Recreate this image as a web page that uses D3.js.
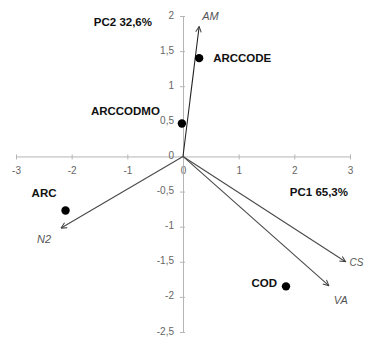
<!DOCTYPE html>
<html>
<head>
<meta charset="utf-8">
<script src="https://cdn.jsdelivr.net/npm/d3@7/dist/d3.min.js"></script>
<style>
  html, body { margin: 0; padding: 0; background: #fff; }
  svg { display: block; }
  text { font-family: "Liberation Sans", Arial, sans-serif; }
</style>
</head>
<body>
<svg id="chart" width="365" height="338"></svg>
<script>
// PCA biplot: sample scores and variable loadings on PC1 / PC2
const sampleNames = ["ARCCODE", "ARCCODMO", "ARC", "COD"];
const samplePC1   = [0.29, -0.02, -2.11, 1.85];
const samplePC2   = [1.40, 0.47, -0.77, -1.85];

const varNames = ["AM", "N2", "CS", "VA"];
const varPC1   = [0.29, -2.19, 2.92, 2.62];
const varPC2   = [1.85, -1.02, -1.50, -1.84];

const xTicks = [-3, -2, -1, 0, 1, 2, 3];
const yTicks = [2, 1.5, 1, 0.5, 0, -0.5, -1, -1.5, -2, -2.5];

const xTitle = "PC1 65,3%";
const yTitle = "PC2 32,6%";

// label placement relative to each mark
const sampleLabelPos = {
  "ARCCODE":  { dx: 14,  dy: 0,   anchor: "start" },
  "ARCCODMO": { dx: -22, dy: -12, anchor: "end" },
  "ARC":      { dx: -9,  dy: -18, anchor: "end" },
  "COD":      { dx: -9,  dy: -3,  anchor: "end" }
};
const varLabelPos = {
  "AM": { dx: 3,   dy: -10, anchor: "start" },
  "N2": { dx: -24, dy: 11,  anchor: "start" },
  "CS": { dx: 4,   dy: 1,   anchor: "start" },
  "VA": { dx: 5,   dy: 14,  anchor: "start" }
};

const svg = d3.select("#chart");
const x = d3.scaleLinear().domain([-3, 3]).range([16, 350]);
const y = d3.scaleLinear().domain([-2.5, 2]).range([332, 16]);
const fmt = d => String(d).replace(".", ",");

// axes crossing at the origin
const gx = svg.append("g")
  .attr("transform", `translate(0,${y(0)})`)
  .call(d3.axisBottom(x).tickValues(xTicks).tickFormat(fmt).tickSizeOuter(0).tickSizeInner(3).tickPadding(7));
const gy = svg.append("g")
  .attr("transform", `translate(${x(0)},0)`)
  .call(d3.axisLeft(y).tickValues(yTicks).tickFormat(fmt).tickSizeOuter(0).tickSizeInner(3).tickPadding(6));

[gx, gy].forEach(g => {
  g.select(".domain").attr("stroke", "#b5b5b5").attr("stroke-width", 1);
  g.selectAll(".tick line").attr("stroke", "#b5b5b5");
  g.selectAll(".tick text")
    .attr("fill", "#666")
    .style("font-size", "10px")
    .style("font-family", "'Liberation Sans', Arial, sans-serif");
});
gx.selectAll(".tick line").attr("y1", -2).attr("y2", 3);
gy.selectAll(".tick line").attr("x1", 2).attr("x2", -3);
gy.selectAll(".tick text").attr("dy", "0.2em");

// open arrowhead
svg.append("defs").append("marker")
  .attr("id", "head")
  .attr("viewBox", "0 0 10 10")
  .attr("refX", 9).attr("refY", 5)
  .attr("markerWidth", 7).attr("markerHeight", 7)
  .attr("markerUnits", "userSpaceOnUse")
  .attr("orient", "auto")
  .append("path")
  .attr("d", "M1,1 L9,5 L1,9")
  .attr("fill", "none")
  .attr("stroke", "#3a3a3a")
  .attr("stroke-width", 1.4);

const vars = varNames.map((n, i) => ({ name: n, pc1: varPC1[i], pc2: varPC2[i] }));
svg.append("g").selectAll("line").data(vars).join("line")
  .attr("x1", x(0)).attr("y1", y(0))
  .attr("x2", d => x(d.pc1)).attr("y2", d => y(d.pc2))
  .attr("stroke", d => d.name === "AM" ? "#222" : "#4a4a4a")
  .attr("stroke-width", 1.1)
  .attr("marker-end", "url(#head)");

svg.append("g").selectAll("text").data(vars).join("text")
  .attr("x", d => x(d.pc1) + varLabelPos[d.name].dx)
  .attr("y", d => y(d.pc2) + varLabelPos[d.name].dy)
  .attr("dy", "0.35em")
  .attr("text-anchor", d => varLabelPos[d.name].anchor)
  .attr("fill", "#555")
  .style("font-size", d => d.name === "CS" ? "10px" : "11px")
  .style("font-style", "italic")
  .text(d => d.name);

const samples = sampleNames.map((n, i) => ({ name: n, pc1: samplePC1[i], pc2: samplePC2[i] }));
svg.append("g").selectAll("circle").data(samples).join("circle")
  .attr("cx", d => x(d.pc1)).attr("cy", d => y(d.pc2))
  .attr("r", 4.2)
  .attr("fill", "#000");

svg.append("g").selectAll("text").data(samples).join("text")
  .attr("x", d => x(d.pc1) + sampleLabelPos[d.name].dx)
  .attr("y", d => y(d.pc2) + sampleLabelPos[d.name].dy)
  .attr("dy", "0.35em")
  .attr("text-anchor", d => sampleLabelPos[d.name].anchor)
  .attr("fill", "#111")
  .style("font-size", "11.5px")
  .style("font-weight", "bold")
  .text(d => d.name);

// axis titles
svg.append("text")
  .attr("x", 152).attr("y", 22).attr("dy", "0.35em")
  .attr("text-anchor", "end")
  .attr("fill", "#111")
  .style("font-size", "11.5px").style("font-weight", "bold")
  .text(yTitle);
svg.append("text")
  .attr("x", 348).attr("y", 192).attr("dy", "0.35em")
  .attr("text-anchor", "end")
  .attr("fill", "#111")
  .style("font-size", "11.5px").style("font-weight", "bold")
  .text(xTitle);
</script>
</body>
</html>
